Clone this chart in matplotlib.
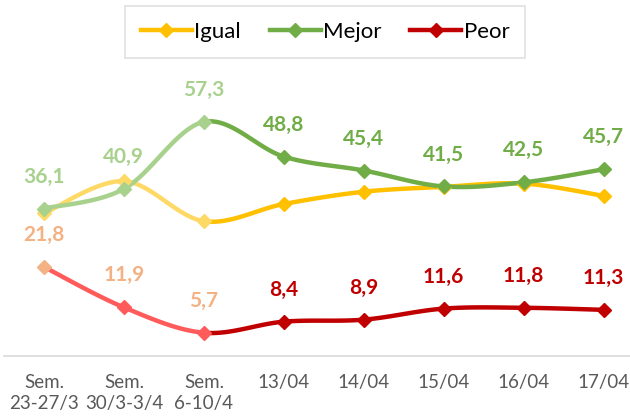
import numpy as np
import matplotlib
matplotlib.use("Agg")
import matplotlib.pyplot as plt
from matplotlib.lines import Line2D

plt.rcParams["font.family"] = ["Lato", "DejaVu Sans"]

# data
categories = ["Sem.\n23-27/3", "Sem.\n30/3-3/4", "Sem.\n6-10/4",
              "13/04", "14/04", "15/04", "16/04", "17/04"]
igual = [34.9, 42.8, 33.0, 37.2, 40.2, 41.4, 42.2, 39.2]
mejor = [36.1, 40.9, 57.3, 48.8, 45.4, 41.5, 42.5, 45.7]
peor  = [21.8, 11.9, 5.7, 8.4, 8.9, 11.6, 11.8, 11.3]
N_WEEKS = 3   # first points are weekly averages, drawn faded

series = [
    # name, values, dark, light line, light label, show labels
    ("Igual", igual, "#FFC000", "#FFD966", "#FFD966", False),
    ("Mejor", mejor, "#70AD47", "#A9D18E", "#A9D18E", True),
    ("Peor",  peor,  "#C00000", "#FF5B5B", "#F4B183", True),
]


def smooth_segment(x, y, i, n=40):
    # excel-like smoothed segment between point i and i+1 (cubic bezier)
    p = np.column_stack([x, y]).astype(float)
    p0 = p[max(i - 1, 0)]
    p1 = p[i]
    p2 = p[i + 1]
    p3 = p[min(i + 2, len(p) - 1)]
    c1 = p1 + (p2 - p0) / 6.0
    c2 = p2 - (p3 - p1) / 6.0
    t = np.linspace(0, 1, n)[:, None]
    b = ((1 - t) ** 3) * p1 + 3 * ((1 - t) ** 2) * t * c1 + 3 * (1 - t) * t ** 2 * c2 + t ** 3 * p2
    return b[:, 0], b[:, 1]


fig = plt.figure(figsize=(6.3, 4.17), dpi=100)
ax = fig.add_axes([4 / 630, 61 / 417, 626 / 630, 286 / 417])

xs = np.arange(len(categories))
for name, vals, dark, light, lab_light, show in series:
    for i in range(len(vals) - 1):
        sx, sy = smooth_segment(xs, vals, i)
        col = light if i < N_WEEKS - 1 else dark
        ax.plot(sx, sy, color=col, lw=3.2, solid_capstyle="round", zorder=2)
    for i, v in enumerate(vals):
        mc = light if i < N_WEEKS else dark
        if name == "Peor" and i == 0:
            mc = lab_light
        ax.plot(xs[i], v, marker="D", ms=7.5, color=mc, zorder=3)
        if show:
            lc = lab_light if i < N_WEEKS else dark
            ax.annotate(f"{v:.1f}".replace(".", ","), (xs[i], v),
                        xytext=(0, 23), textcoords="offset points",
                        ha="center", va="center", fontsize=15,
                        fontweight="bold", color=lc)

ax.set_xlim(-0.5, 7.33)
ax.set_ylim(0, 70)
ax.set_xticks(xs)
ax.set_xticklabels(categories, fontsize=13.5, color="#595959", linespacing=1.25)
ax.tick_params(axis="x", length=0, pad=13)
ax.set_yticks([])
for side in ["left", "right", "top"]:
    ax.spines[side].set_visible(False)
ax.spines["bottom"].set_color("#D9D9D9")
ax.spines["bottom"].set_linewidth(1.2)

handles = [Line2D([0], [0], color=d, lw=3.2, marker="D", ms=7.5) for _, _, d, _, _, _ in series]
leg = fig.legend(handles, [s[0] for s in series], ncol=3, loc="center",
                 bbox_to_anchor=(325 / 630, 1 - 32 / 417), fontsize=16,
                 frameon=True, fancybox=False, edgecolor="#D9D9D9",
                 handlelength=2.3, handletextpad=0.1, columnspacing=1.3,
                 borderpad=0.7)
leg.get_frame().set_linewidth(1.2)

fig.savefig("out.png", dpi=100)
